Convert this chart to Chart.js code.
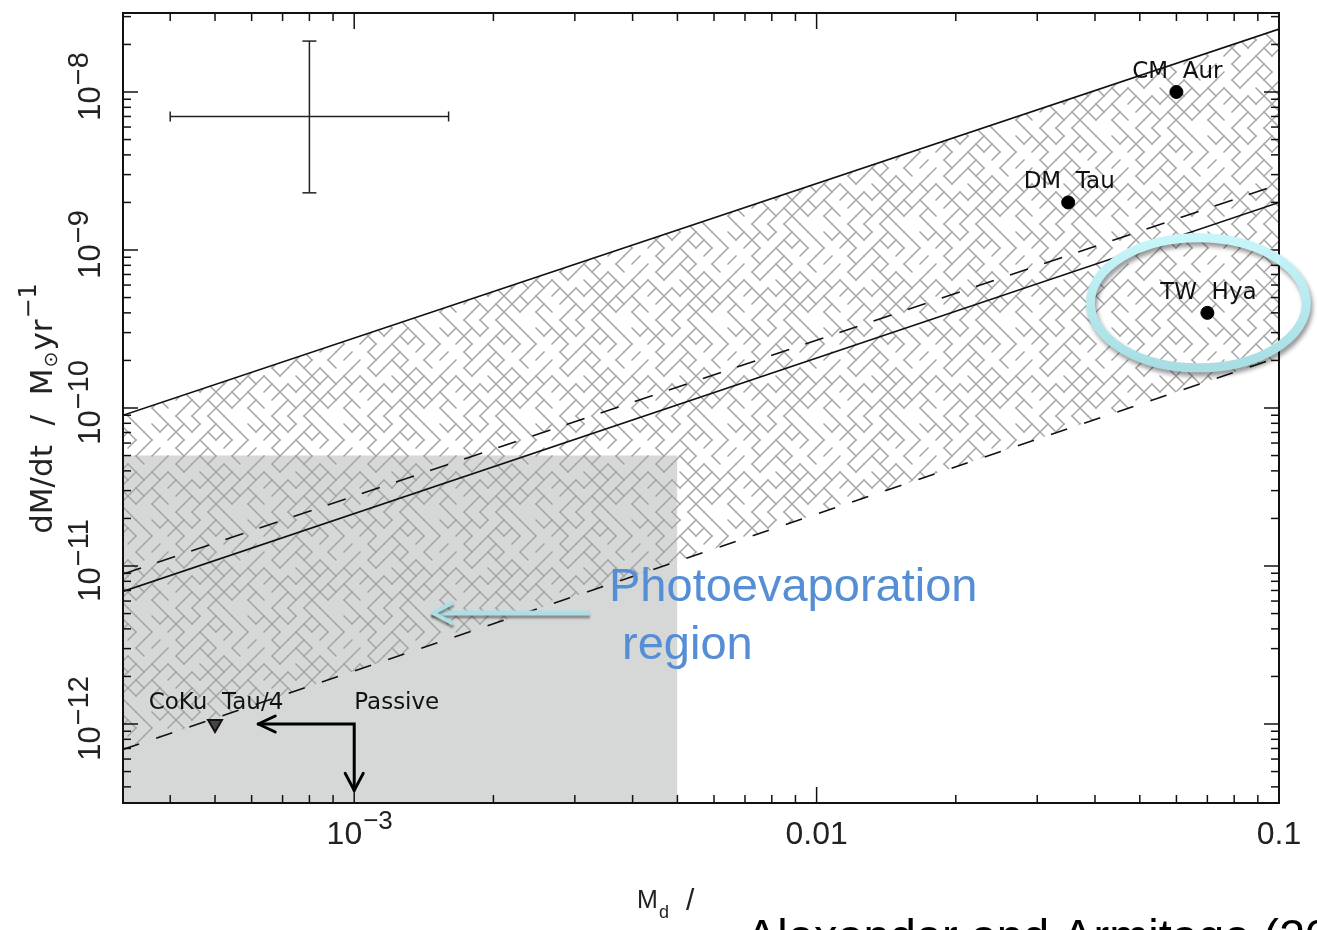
<!DOCTYPE html>
<html>
<head>
<meta charset="utf-8">
<script src="https://cdn.jsdelivr.net/npm/chart.js@4.4.0/dist/chart.umd.min.js"></script>
<style>
html, body { margin: 0; padding: 0; background: #fff; overflow: hidden; }
</style>
</head>
<body>
<canvas id="chart" width="1317" height="930"></canvas>
<script>
// axis limits (disc mass in Msun, accretion rate in Msun/yr)
var xRange = [3.162e-4, 0.1];
var yRange = [3.162e-13, 3.162e-8];

// model lines, given at the two ends of the mass range
var lineMd = [3.162e-4, 0.1];
var upperSolid = [9.0e-11, 2.5e-8];
var upperDashed = [8.9e-12, 2.6e-9];
var midSolid = [6.9e-12, 2.0e-9];
var lowerDashed = [6.9e-13, 2.1e-10];

// photoevaporation box
var boxMd = [3.162e-4, 5e-3];
var boxMdot = [5e-11, 5e-11];

// transitional discs
var discNames = ['CM  Aur', 'DM  Tau', 'TW  Hya'];
var discMd = [0.06, 0.035, 0.07];
var discMdot = [1e-8, 2e-9, 4e-10];

var limitName = 'CoKu  Tau/4';
var limitMd = [5e-4];
var limitMdot = [1e-12];

// typical error bar
var errMd = [4e-4, 8e-4, 1.6e-3];
var errMdot = [2.3e-9, 7e-9, 2.1e-8];

// "Passive" arrows
var passiveMd = [6.2e-4, 1e-3, 1e-3];
var passiveMdot = [1e-12, 1e-12, 3.8e-13];

// tick labels
var xTickVals = [1e-3, 0.01, 0.1];
var xTickBase = ['10', '0.01', '0.1'];
var xTickSup = ['\u22123', '', ''];
var yTickVals = [1e-12, 1e-11, 1e-10, 1e-9, 1e-8];
var yTickSup = ['\u221212', '\u221211', '\u221210', '\u22129', '\u22128'];

function pts(xs, ys) {
    return xs.map(function(v, i) { return {x: v, y: ys[i]}; });
}

// maze-like hatch used for the allowed band
function makeHatch() {
    var h = 8, n = 12, T = h * n;
    var c = document.createElement('canvas');
    c.width = T; c.height = T;
    var g = c.getContext('2d');
    g.strokeStyle = '#a2a2a2';
    g.lineWidth = 1.4;
    g.lineCap = 'square';
    for (var a = 0; a < n; a++) {
        for (var b = 0; b < n; b++) {
            if ((a + b) % 2) continue;
            for (var d = 0; d < 2; d++) {
                var s = Math.imul(a + 1, 73856093) ^ Math.imul(b + 1, 19349663) ^ Math.imul(d + 1, 83492791);
                s = Math.imul(s ^ (s >>> 13), 1274126177);
                s = (s ^ (s >>> 16)) >>> 0;
                if (s % 100 > 50) continue;
                var x0 = a * h, y0 = b * h, x1 = x0 + h, y1 = y0 + (d ? -h : h);
                for (var ox = -T; ox <= T; ox += T) {
                    for (var oy = -T; oy <= T; oy += T) {
                        g.beginPath();
                        g.moveTo(x0 + ox, y0 + oy);
                        g.lineTo(x1 + ox, y1 + oy);
                        g.stroke();
                    }
                }
            }
        }
    }
    return g.createPattern(c, 'repeat');
}

function seg(ctx, x0, y0, x1, y1) {
    ctx.beginPath(); ctx.moveTo(x0, y0); ctx.lineTo(x1, y1); ctx.stroke();
}

var framePlugin = {
    id: 'frame',
    afterDatasetsDraw: function(chart) {
        var ctx = chart.ctx, a = chart.chartArea, x = chart.scales.x, y = chart.scales.y;
        ctx.save();
        ctx.strokeStyle = '#111';
        ctx.lineWidth = 1.5;
        for (var e = -4; e <= -1; e++) {
            for (var m = 1; m <= 9; m++) {
                var v = m * Math.pow(10, e);
                if (v < x.min * 0.999 || v > x.max * 1.001) continue;
                var px = x.getPixelForValue(v), len = m === 1 ? 16 : 8;
                seg(ctx, px, a.bottom, px, a.bottom - len);
                seg(ctx, px, a.top, px, a.top + len);
            }
        }
        for (e = -13; e <= -8; e++) {
            for (m = 1; m <= 9; m++) {
                v = m * Math.pow(10, e);
                if (v < y.min * 0.999 || v > y.max * 1.001) continue;
                var py = y.getPixelForValue(v);
                len = m === 1 ? 15 : 8;
                seg(ctx, a.left, py, a.left + len, py);
                seg(ctx, a.right, py, a.right - len, py);
            }
        }
        ctx.lineWidth = 2;
        ctx.strokeRect(a.left, a.top, a.width, a.height);
        ctx.restore();
    },
    afterDraw: function(chart) {
        var ctx = chart.ctx, a = chart.chartArea, x = chart.scales.x, y = chart.scales.y;
        ctx.save();
        ctx.fillStyle = '#222';
        ctx.textBaseline = 'alphabetic';

        // x tick labels
        xTickVals.forEach(function(v, i) {
            var px = x.getPixelForValue(v);
            ctx.font = '32px "Liberation Sans"';
            var w1 = ctx.measureText(xTickBase[i]).width;
            ctx.font = '26px "Liberation Sans"';
            var w2 = xTickSup[i] ? ctx.measureText(xTickSup[i]).width : 0;
            var start = px - (w1 + w2) / 2 + (w2 ? 5 : 0);
            ctx.font = '32px "Liberation Sans"';
            ctx.textAlign = 'left';
            ctx.fillText(xTickBase[i], start, 844);
            if (w2) {
                ctx.font = '26px "Liberation Sans"';
                ctx.fillText(xTickSup[i], start + w1 + 1, 829);
            }
        });

        // y tick labels, rotated
        yTickVals.forEach(function(v, i) {
            var py = y.getPixelForValue(v);
            ctx.save();
            ctx.translate(100, py);
            ctx.rotate(-Math.PI / 2);
            ctx.font = '31px "Liberation Sans"';
            var w1 = ctx.measureText('10').width;
            ctx.font = '29px "Liberation Sans"';
            var w2 = ctx.measureText(yTickSup[i]).width;
            var start = 5 - (w1 + w2) / 2;
            ctx.textAlign = 'left';
            ctx.font = '31px "Liberation Sans"';
            ctx.fillText('10', start, 0);
            ctx.font = '29px "Liberation Sans"';
            ctx.fillText(yTickSup[i], start + w1 + 1, -12);
            ctx.restore();
        });

        // y axis title
        ctx.save();
        ctx.translate(52, 410);
        ctx.rotate(-Math.PI / 2);
        ctx.textAlign = 'left';
        var parts = [
            ['dM/dt  /  M', '31px "DejaVu Sans"', 0],
            ['\u2299', '19px "DejaVu Sans"', 5],
            ['yr', '31px "DejaVu Sans"', 0],
            ['\u22121', '24px "DejaVu Sans"', -16]
        ];
        var total = 0;
        parts.forEach(function(p) { ctx.font = p[1]; p.push(ctx.measureText(p[0]).width); total += p[3]; });
        var cx = -total / 2;
        parts.forEach(function(p) { ctx.font = p[1]; ctx.fillText(p[0], cx, p[2]); cx += p[3] + 1; });
        ctx.restore();

        // x axis title (partly hidden in the original)
        ctx.font = '25px "Liberation Sans"';
        ctx.fillText('M', 637, 908);
        ctx.font = '18px "Liberation Sans"';
        ctx.fillText('d', 659, 918);
        ctx.font = '30px "Liberation Sans"';
        ctx.fillText('/', 686, 910);

        // disc labels
        var meta = chart.getDatasetMeta(8);
        ctx.font = '23px "DejaVu Sans"';
        ctx.fillStyle = '#111';
        ctx.textAlign = 'center';
        meta.data.forEach(function(p, i) {
            ctx.fillText(discNames[i], p.x + 1, p.y - 14);
        });
        var lm = chart.getDatasetMeta(9).data[0];
        ctx.fillText(limitName, lm.x + 1, lm.y - 15);
        var pm = chart.getDatasetMeta(7).data;
        ctx.textAlign = 'left';
        ctx.fillText('Passive', pm[1].x, pm[1].y - 15);

        // passive arrow heads
        ctx.strokeStyle = '#000';
        ctx.lineWidth = 3;
        ctx.lineCap = 'round';
        var t = pm[0];
        seg(ctx, t.x, t.y, t.x + 17, t.y - 8);
        seg(ctx, t.x, t.y, t.x + 17, t.y + 8);
        t = pm[2];
        seg(ctx, t.x, t.y, t.x - 9, t.y - 17);
        seg(ctx, t.x, t.y, t.x + 9, t.y - 17);

        // highlight ellipse round TW Hya
        var tw = meta.data[2];
        ctx.save();
        ctx.shadowColor = 'rgba(0,0,0,0.4)';
        ctx.shadowBlur = 4;
        ctx.shadowOffsetX = 2;
        ctx.shadowOffsetY = 4;
        var gr = ctx.createLinearGradient(0, tw.y - 80, 0, tw.y + 60);
        gr.addColorStop(0, '#c8f7fb');
        gr.addColorStop(1, '#a6dce2');
        ctx.strokeStyle = gr;
        ctx.lineWidth = 9;
        ctx.beginPath();
        ctx.ellipse(tw.x - 9, tw.y - 10, 108, 65, 0, 0, Math.PI * 2);
        ctx.stroke();
        ctx.restore();

        // photoevaporation note
        ctx.save();
        ctx.shadowColor = 'rgba(0,0,0,0.35)';
        ctx.shadowBlur = 2;
        ctx.shadowOffsetY = 3;
        ctx.strokeStyle = '#aedde3';
        ctx.lineWidth = 5;
        ctx.lineCap = 'butt';
        seg(ctx, 590, 613, 436, 613);
        ctx.lineCap = 'round';
        ctx.lineWidth = 4;
        seg(ctx, 433, 613, 452, 603);
        seg(ctx, 433, 613, 452, 623);
        ctx.restore();

        ctx.fillStyle = '#558ed5';
        ctx.font = '47px "Liberation Sans"';
        ctx.textAlign = 'left';
        ctx.fillText('Photoevaporation', 609, 601);
        ctx.fillText(' region', 609, 659);

        // citation, cut by the bottom edge
        ctx.fillStyle = '#000';
        ctx.font = '47px "Liberation Sans"';
        ctx.fillText('Alexander and Armitage (2007)', 746, 952);
        ctx.restore();
    }
};

window.onload = function() {
    var ctx = document.getElementById('chart').getContext('2d');
    var hatch = makeHatch();

    var lineStyle = function(data, dash, order) {
        return {
            data: data,
            showLine: true,
            borderColor: '#111',
            borderWidth: 1.6,
            borderDash: dash,
            pointRadius: 0,
            fill: false,
            order: order
        };
    };

    var upper = lineStyle(pts(lineMd, upperSolid), [], 5);
    upper.fill = {target: 4};
    upper.backgroundColor = hatch;

    new Chart(ctx, {
        type: 'scatter',
        data: {
            datasets: [
                {
                    data: pts(boxMd, boxMdot),
                    showLine: true,
                    borderWidth: 0,
                    borderColor: 'rgba(0,0,0,0)',
                    backgroundColor: '#d6d8d8',
                    pointRadius: 0,
                    fill: 'start',
                    order: 10
                },
                upper,
                lineStyle(pts(lineMd, upperDashed), [19, 17], 2),
                lineStyle(pts(lineMd, midSolid), [], 2),
                lineStyle(pts(lineMd, lowerDashed), [17, 18], 2),
                {
                    data: pts([errMd[0], errMd[2]], [errMdot[1], errMdot[1]]),
                    showLine: true,
                    borderColor: '#222',
                    borderWidth: 1.5,
                    pointStyle: 'line',
                    pointRotation: 90,
                    pointRadius: 5,
                    pointBorderColor: '#222',
                    pointBorderWidth: 1.5,
                    order: 1
                },
                {
                    data: pts([errMd[1], errMd[1]], [errMdot[0], errMdot[2]]),
                    showLine: true,
                    borderColor: '#222',
                    borderWidth: 1.5,
                    pointStyle: 'line',
                    pointRotation: 0,
                    pointRadius: 7,
                    pointBorderColor: '#222',
                    pointBorderWidth: 1.5,
                    order: 1
                },
                {
                    data: pts(passiveMd, passiveMdot),
                    showLine: true,
                    borderColor: '#000',
                    borderWidth: 3,
                    pointRadius: 0,
                    order: 1
                },
                {
                    data: pts(discMd, discMdot),
                    pointRadius: 6.5,
                    pointBackgroundColor: '#000',
                    pointBorderColor: '#000',
                    order: 0
                },
                {
                    data: pts(limitMd, limitMdot),
                    pointStyle: 'triangle',
                    pointRotation: 180,
                    pointRadius: 8,
                    pointBackgroundColor: '#444',
                    pointBorderColor: '#111',
                    pointBorderWidth: 2,
                    order: 0
                }
            ]
        },
        options: {
            responsive: false,
            devicePixelRatio: 1,
            animation: false,
            layout: {padding: {top: 13, right: 38, left: 0, bottom: 0}},
            plugins: {legend: {display: false}, tooltip: {enabled: false}},
            scales: {
                x: {
                    type: 'logarithmic',
                    min: xRange[0],
                    max: xRange[1],
                    bounds: 'data',
                    ticks: {display: false},
                    grid: {display: false},
                    border: {display: false},
                    afterFit: function(s) { s.height = 127; }
                },
                y: {
                    type: 'logarithmic',
                    min: yRange[0],
                    max: yRange[1],
                    bounds: 'data',
                    ticks: {display: false},
                    grid: {display: false},
                    border: {display: false},
                    afterFit: function(s) { s.width = 123; }
                }
            }
        },
        plugins: [framePlugin]
    });
};
</script>
</body>
</html>
